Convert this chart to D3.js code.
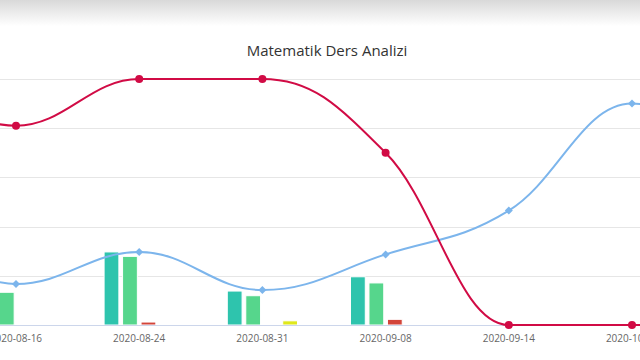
<!DOCTYPE html>
<html><head><meta charset="utf-8">
<script src="https://cdn.jsdelivr.net/npm/d3@7"></script>
<style>body{margin:0;background:#fff}svg{display:block}</style>
</head><body><svg id="c" width="640" height="360"></svg>
<script>
// ---- data (values on a 0-100 scale) ----
const categories = ["2020-08-09","2020-08-16","2020-08-24","2020-08-31","2020-09-08","2020-09-14","2020-10-05","2020-10-12"];
const barKeys = ["toplam","dogru","yanlis","bos"];
const toplam = [20, 15, 29.7, 13.8, 19.6, 0, 0, 0];
const dogru  = [18, 13.3, 27.9, 11.9, 17.1, 0, 0, 0];
const yanlis = [0, 0, 1.2, 0, 2.3, 0, 0, 0];
const bos    = [0, 0, 0, 1.7, 0, 0, 0, 0];
const basariLine = [100, 81, 100, 100, 70, 0, 0, 0];
const ortalamaLine = [40, 16.7, 29.7, 14.2, 28.7, 46.5, 90, 75];
const yTicks = [0, 20, 40, 60, 80, 100];
const title = "Matematik Ders Analizi";

const barColors = {toplam:"#2ec4ad", dogru:"#56d68c", yanlis:"#d3453a", bos:"#dfe81b"};
const barData = {toplam, dogru, yanlis, bos};
const redColor = "#d10b45", blueColor = "#7cb5ec";

const svg = d3.select("#c");
const W = 640, H = 360;

// top shadow
const defs = svg.append("defs");
const g1 = defs.append("linearGradient").attr("id","sh").attr("x1",0).attr("x2",0).attr("y1",0).attr("y2",1);
g1.append("stop").attr("offset","0%").attr("stop-color","#d9d9d9");
g1.append("stop").attr("offset","100%").attr("stop-color","#ffffff");
svg.append("rect").attr("x",0).attr("y",0).attr("width",W).attr("height",26).attr("fill","url(#sh)");

svg.append("text").attr("x",327).attr("y",56).attr("text-anchor","middle")
  .attr("font-family","'Open Sans', sans-serif").attr("font-size",15).attr("fill","#333")
  .text(title);

const step = 123.2;
const x = d3.scaleBand().domain(categories).range([16 - 1.5*step, 16 - 1.5*step + categories.length*step]);
const xs = d3.scaleBand().domain(barKeys).range([0.2*step, 0.8*step]).paddingInner(0.2).paddingOuter(0.1);
const y = d3.scaleLinear().domain([0,100]).range([325, 79]);
const cx = c => x(c) + x.bandwidth()/2;

// grid
svg.append("g").selectAll("line").data(yTicks.filter(t=>t>0)).join("line")
  .attr("x1",0).attr("x2",W).attr("y1",d=>Math.round(y(d))+0.5).attr("y2",d=>Math.round(y(d))+0.5)
  .attr("stroke","#e6e6e6").attr("stroke-width",1);

// bars
const bars = svg.append("g");
categories.forEach((c,i)=>{
  barKeys.forEach(k=>{
    const v = barData[k][i];
    if (!v) return;
    bars.append("rect").attr("x", x(c)+xs(k)).attr("width", xs.bandwidth())
      .attr("y", y(v)).attr("height", y(0)-y(v))
      .attr("fill", barColors[k]).attr("stroke","#fff").attr("stroke-width",1);
  });
});

// x axis line
svg.append("line").attr("x1",0).attr("x2",W).attr("y1",325.5).attr("y2",325.5).attr("stroke","#ccd6eb");

// labels
svg.append("g").selectAll("text").data(categories).join("text")
  .attr("x", d=>cx(d)).attr("y",342).attr("text-anchor","middle")
  .attr("font-family","'Open Sans', sans-serif").attr("font-size",10).attr("fill","#666")
  .text(d=>d);

// Highcharts-style spline
function spline(pts){
  const sm=1.5, den=2.5;
  const ctrl = pts.map((pt,i)=>{
    const last=pts[i-1], next=pts[i+1];
    if(!last||!next) return {l:pt, r:pt};
    let lx=(sm*pt[0]+last[0])/den, ly=(sm*pt[1]+last[1])/den;
    let rx=(sm*pt[0]+next[0])/den, ry=(sm*pt[1]+next[1])/den;
    const corr=((ry-ly)*(rx-pt[0]))/(rx-lx)+pt[1]-ry;
    ly+=corr; ry+=corr;
    if(ly>last[1]&&ly>pt[1]){ly=Math.max(last[1],pt[1]);ry=2*pt[1]-ly;}
    else if(ly<last[1]&&ly<pt[1]){ly=Math.min(last[1],pt[1]);ry=2*pt[1]-ly;}
    if(ry>next[1]&&ry>pt[1]){ry=Math.max(next[1],pt[1]);ly=2*pt[1]-ry;}
    else if(ry<next[1]&&ry<pt[1]){ry=Math.min(next[1],pt[1]);ly=2*pt[1]-ry;}
    return {l:[lx,ly], r:[rx,ry]};
  });
  const p = d3.path();
  p.moveTo(pts[0][0], pts[0][1]);
  for(let i=1;i<pts.length;i++){
    p.bezierCurveTo(ctrl[i-1].r[0],ctrl[i-1].r[1],ctrl[i].l[0],ctrl[i].l[1],pts[i][0],pts[i][1]);
  }
  return p.toString();
}

const bluePts = categories.map((c,i)=>[cx(c), y(ortalamaLine[i])]);
const redPts = categories.map((c,i)=>[cx(c), y(basariLine[i])]);

svg.append("path").attr("d", spline(bluePts)).attr("fill","none").attr("stroke",blueColor).attr("stroke-width",2);
svg.append("g").selectAll("path").data(bluePts).join("path")
  .attr("d", d=>`M${d[0]},${d[1]-4}L${d[0]+4},${d[1]}L${d[0]},${d[1]+4}L${d[0]-4},${d[1]}Z`)
  .attr("fill",blueColor);

svg.append("path").attr("d", spline(redPts)).attr("fill","none").attr("stroke",redColor).attr("stroke-width",2);
svg.append("g").selectAll("circle").data(redPts).join("circle")
  .attr("cx",d=>d[0]).attr("cy",d=>d[1]).attr("r",4).attr("fill",redColor);
</script></body></html>
